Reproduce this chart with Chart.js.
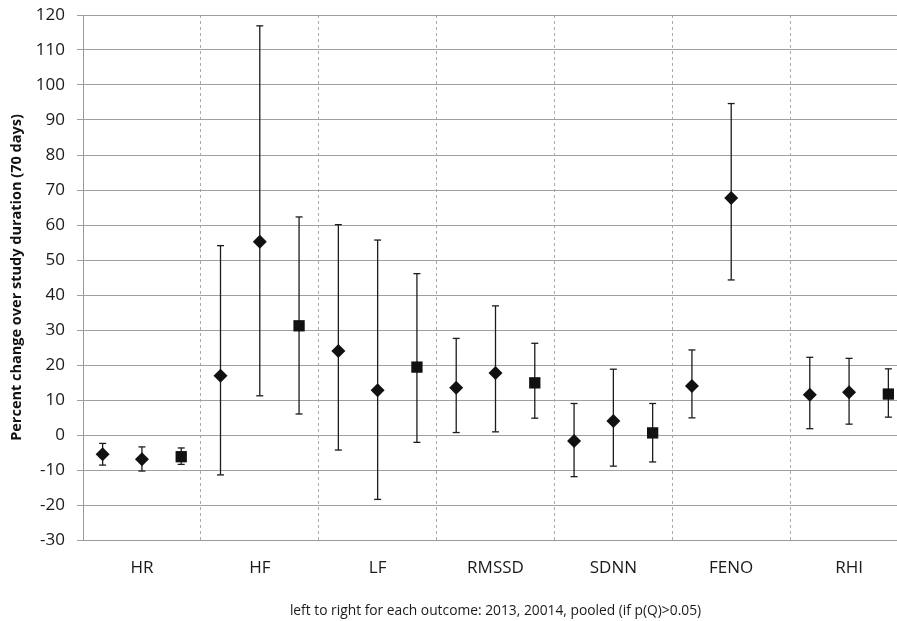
<!DOCTYPE html>
<html>
<head>
<meta charset="utf-8">
<script src="https://cdn.jsdelivr.net/npm/chart.js@4/dist/chart.umd.min.js"></script>
<style>
  html, body { margin: 0; padding: 0; background: #fff; overflow: hidden; }
  #wrap { width: 916px; height: 621px; }
</style>
</head>
<body>
<div id="wrap"><canvas id="chart"></canvas></div>
<script>
// outcomes, left to right
const outcomes = ['HR', 'HF', 'LF', 'RMSSD', 'SDNN', 'FENO', 'RHI'];

// 2013 study: estimate + 95% CI
const est2013  = [-5.5, 16.9, 24.0, 13.5, -1.7, 14.0, 11.5];
const low2013  = [-8.6, -11.4, -4.3, 0.7, -11.9, 4.9, 1.8];
const high2013 = [-2.4, 54.1, 60.1, 27.6, 9.0, 24.3, 22.2];

// "20014" study
const est2014  = [-6.9, 55.2, 12.8, 17.7, 4.0, 67.7, 12.2];
const low2014  = [-10.3, 11.2, -18.4, 0.9, -8.9, 44.3, 3.1];
const high2014 = [-3.4, 116.9, 55.7, 36.9, 18.8, 94.7, 21.9];

// pooled (only if p(Q) > 0.05) - none for FENO
const estPooled  = [-6.2, 31.2, 19.4, 14.9, 0.6, null, 11.7];
const lowPooled  = [-8.4, 6.0, -2.1, 4.8, -7.7, null, 5.1];
const highPooled = [-3.7, 62.3, 46.1, 26.2, 9.0, null, 18.9];

// y axis
const yMin = -30, yMax = 120, yStep = 10;

const FONT = "'Open Sans', sans-serif";
const INK = '#111';
const SLOTS = 3; // three slots per outcome

// ---------------------------------------------------------------------------
function markers(est, slot, style, radius){
  const pts = [];
  est.forEach((v, i) => { if (v !== null) pts.push({x: i*SLOTS + slot + 0.5, y: v}); });
  return {
    type: 'scatter', data: pts, order: 0,
    pointStyle: style, pointRadius: radius, pointHoverRadius: radius,
    backgroundColor: INK, borderColor: INK, borderWidth: 0
  };
}

function errorBars(low, high, slot){
  const sets = [];
  low.forEach((lo, i) => {
    if (lo === null) return;
    const x = i*SLOTS + slot + 0.5;
    sets.push({
      type: 'line', showLine: true, order: 1,
      data: [{x: x, y: lo}, {x: x, y: high[i]}],
      borderColor: '#1c1c1c', borderWidth: 1.3,
      pointStyle: 'line', pointRadius: 3.5, pointHoverRadius: 3.5,
      pointBorderColor: '#1c1c1c', pointBorderWidth: 1.3
    });
  });
  return sets;
}

const datasets = [
  markers(est2013, 0, 'rectRot', 7),
  markers(est2014, 1, 'rectRot', 7),
  markers(estPooled, 2, 'rect', 8),
  ...errorBars(low2013, high2013, 0),
  ...errorBars(low2014, high2014, 1),
  ...errorBars(lowPooled, highPooled, 2)
];

const nMax = outcomes.length * SLOTS;

new Chart(document.getElementById('chart'), {
  type: 'scatter',
  data: { datasets: datasets },
  options: {
    responsive: true,
    maintainAspectRatio: false,
    animation: false,
    layout: { padding: { top: 15, right: 5, bottom: 0, left: 0 } },
    plugins: { legend: { display: false }, tooltip: { enabled: false } },
    scales: {
      x: {
        type: 'linear', min: 0, max: nMax,
        afterBuildTicks: (scale) => {
          const t = [];
          for (let v = 0; v <= nMax; v += SLOTS/2) t.push({value: v});
          scale.ticks = t;
        },
        afterFit: (scale) => { scale.height = 81; scale.paddingLeft = 0; scale.paddingRight = 0; },
        ticks: {
          autoSkip: false, maxRotation: 0, padding: 18,
          color: '#1a1a1a', font: { family: FONT, size: 17 },
          callback: (v) => (v % SLOTS === SLOTS/2) ? outcomes[(v - SLOTS/2)/SLOTS] : ''
        },
        grid: {
          drawTicks: false, lineWidth: 1,
          color: (ctx) => (ctx.tick && ctx.tick.value % SLOTS === 0 && ctx.tick.value > 0) ? '#a9a9a9' : 'rgba(0,0,0,0)'
        },
        border: { display: true, color: '#9a9a9a', width: 1, dash: [3, 3] },
        title: {
          display: true, text: 'left to right for each outcome: 2013, 20014, pooled (if p(Q)>0.05)',
          color: '#1a1a1a', font: { family: FONT, size: 13.8 }, padding: { top: 0, bottom: 2 }
        }
      },
      y: {
        min: yMin, max: yMax,
        afterFit: (scale) => { scale.width = 83; scale.paddingTop = 0; scale.paddingBottom = 0; },
        ticks: {
          stepSize: yStep, padding: 12,
          color: '#1a1a1a', font: { family: FONT, size: 17 }
        },
        grid: { color: '#a0a0a0', lineWidth: 1, tickLength: 6 },
        border: { display: true, color: '#9a9a9a', width: 1 },
        title: {
          display: true, text: 'Percent change over study duration (70 days)',
          color: '#111', font: { family: FONT, size: 14.5, weight: 'bold' }, padding: { top: 8, bottom: 0 }
        }
      }
    }
  }
});
</script>
</body>
</html>
